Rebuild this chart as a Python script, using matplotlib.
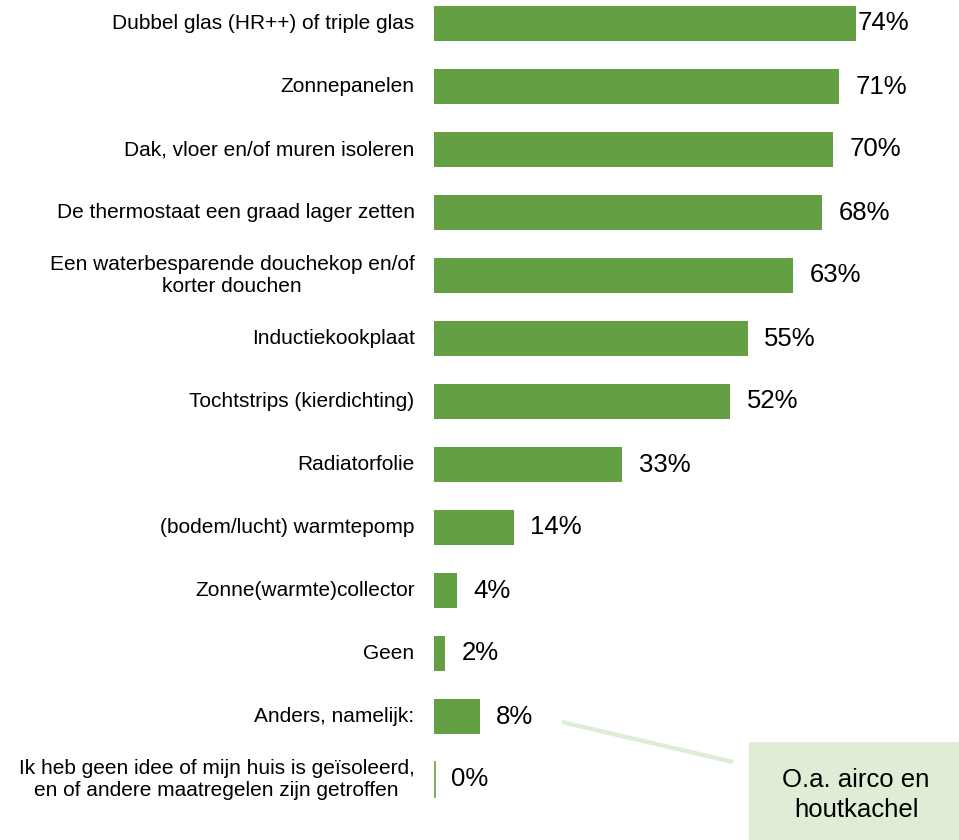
import matplotlib
matplotlib.use("Agg")
import matplotlib.pyplot as plt
from matplotlib.patches import Rectangle
from matplotlib.lines import Line2D

plt.rcParams['font.family'] = ['Liberation Sans', 'DejaVu Sans']

categories = [
    "Dubbel glas (HR++) of triple glas",
    "Zonnepanelen",
    "Dak, vloer en/of muren isoleren",
    "De thermostaat een graad lager zetten",
    "Een waterbesparende douchekop en/of\nkorter douchen",
    "Inductiekookplaat",
    "Tochtstrips (kierdichting)",
    "Radiatorfolie",
    "(bodem/lucht) warmtepomp",
    "Zonne(warmte)collector",
    "Geen",
    "Anders, namelijk:",
    "Ik heb geen idee of mijn huis is geïsoleerd,\nen of andere maatregelen zijn getroffen",
]
values = [74, 71, 70, 68, 63, 55, 52, 33, 14, 4, 2, 8, 0]
value_labels = [f"{v}%" for v in values]
callout_text = "O.a. airco en\nhoutkachel"

BAR = "#64A043"
BOX = "#DFEDD7"

W, H = 959, 840
fig = plt.figure(figsize=(W / 100, H / 100), dpi=100)
left_px = 434
ax = fig.add_axes([left_px / W, 0, 1 - left_px / W, 1])
px_per_unit = 5.70
ax.set_xlim(0, (W - left_px) / px_per_unit)
ax.set_ylim((H - 23.5) / 63, -23.5 / 63)
ax.axis("off")

ys = list(range(len(categories)))
for y, v in zip(ys, values):
    if v == 0:
        ax.plot([0.1, 0.1], [y - 0.278, y + 0.278], color=BAR, lw=1.2)
ax.barh(ys, values, height=0.556, color=BAR, edgecolor="none")

vmax = max(values)
for y, v, lab in zip(ys, values, value_labels):
    off = 1 if v == vmax else 12
    ax.annotate(lab, (v, y), xytext=(off, 0), textcoords="offset points",
                ha="left", va="center", fontsize=18.5, color="#000000")

for y, cat in zip(ys, categories):
    ax.annotate(cat, (0, y), xytext=(-14, 0), textcoords="offset points",
                ha="right", va="center", fontsize=15, color="#000000",
                multialignment="center", linespacing=1.25, annotation_clip=False)

# callout box and connector line (figure pixel geometry)
fig.add_artist(Line2D([562 / W, 733 / W], [1 - 722 / H, 1 - 762 / H],
                      transform=fig.transFigure, color=BOX, lw=3.2,
                      solid_capstyle="butt"))
fig.add_artist(Rectangle((749 / W, 0), 1 - 749 / W, 1 - 742 / H,
                         transform=fig.transFigure, facecolor=BOX,
                         edgecolor="none"))
fig.text(856 / W, 1 - 795 / H, callout_text, ha="center", va="center",
         fontsize=18.5, linespacing=1.3, color="#000000")

fig.savefig("out.png", dpi=100, facecolor="white")
